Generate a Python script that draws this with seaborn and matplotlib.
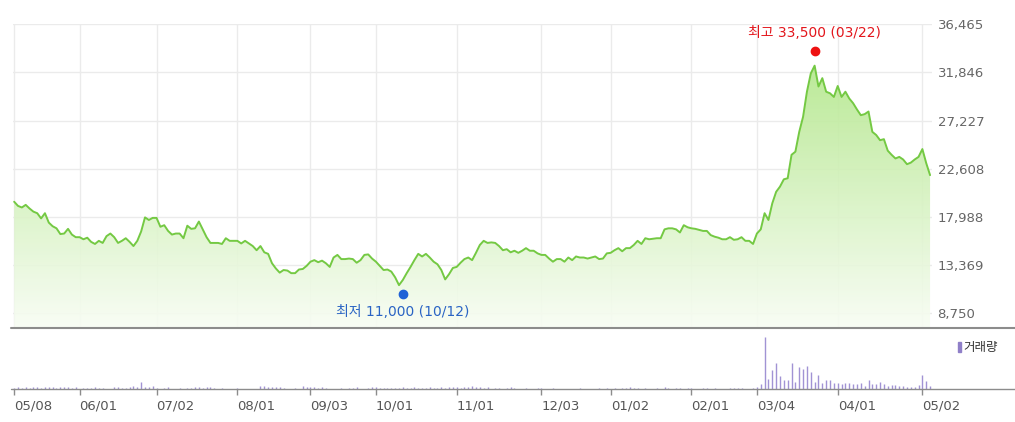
import numpy as np
import pandas as pd
import matplotlib
matplotlib.use("Agg")
import matplotlib.pyplot as plt
import matplotlib.transforms as mtransforms
import seaborn as sns
from matplotlib.colors import LinearSegmentedColormap
from matplotlib.patches import Rectangle

# daily closing prices (trading days, 05/08 -> early May)
prices = [
    19450, 19050, 18900, 19150, 18800, 18500, 18350, 17850, 18350, 17450,
    17100, 16900, 16350, 16400, 16850, 16300, 16050, 16050, 15850, 16000,
    15600, 15400, 15700, 15500, 16150, 16400, 16050, 15500, 15700, 15950,
    15600, 15200, 15700, 16600, 17950, 17700, 17900, 17900, 17050, 17200,
    16650, 16300, 16400, 16400, 15950, 17150, 16850, 16900, 17550, 16800,
    16050, 15500, 15500, 15500, 15400, 15950, 15700, 15700, 15700, 15450,
    15700, 15450, 15200, 14800, 15200, 14600, 14450, 13550, 13050, 12650,
    12900, 12850, 12600, 12600, 12950, 13000, 13300, 13700, 13850, 13650,
    13800, 13550, 13200, 14100, 14350, 13950, 13950, 14000, 13950, 13600,
    13850, 14350, 14400, 14000, 13700, 13300, 12900, 12950, 12750, 12200,
    11450, 11950, 12600, 13200, 13850, 14450, 14200, 14450, 14100, 13700,
    13450, 12900, 12000, 12500, 13100, 13200, 13600, 13950, 14100, 13850,
    14550, 15300, 15700, 15500, 15550, 15500, 15200, 14800, 14900, 14600,
    14750, 14550, 14750, 15000, 14750, 14750, 14500, 14350, 14350, 14000,
    13700, 13950, 13950, 13700, 14100, 13850, 14200, 14100, 14100, 14000,
    14100, 14200, 13950, 14000, 14500, 14550, 14800, 15000, 14700, 15000,
    15000, 15300, 15700, 15400, 15950, 15850, 15900, 15950, 15950, 16800,
    16900, 16900, 16800, 16500, 17200, 17000, 16900, 16850, 16750, 16650,
    16650, 16250, 16100, 16000, 15850, 15850, 16050, 15800, 15850, 16050,
    15700, 15700, 15400, 16400, 16800, 18350, 17700, 19300, 20400, 20900,
    21600, 21700, 23950, 24250, 26150, 27600, 30000, 31750, 32500, 30500,
    31300, 30000, 29850, 29500, 30550, 29500, 30000, 29350, 28900, 28300,
    27750, 27850, 28100, 26150, 25850, 25350, 25450, 24350, 23950, 23600,
    23750, 23500, 23050, 23200, 23500, 23750, 24500, 23150, 22000,
]

# daily volume (thousand shares)
volumes = [
    170, 200, 150, 200, 170, 230, 200, 170, 200, 230,
    200, 170, 230, 200, 250, 170, 200, 0, 170, 130,
    170, 200, 130, 170, 0, 0, 200, 230, 170, 130,
    200, 330, 230, 700, 200, 270, 300, 130, 0, 170,
    200, 0, 0, 170, 0, 130, 170, 230, 200, 170,
    270, 200, 170, 0, 130, 0, 0, 0, 130, 0,
    0, 0, 0, 0, 330, 300, 270, 270, 230, 200,
    170, 0, 0, 170, 0, 300, 200, 270, 230, 170,
    200, 130, 0, 0, 0, 170, 0, 170, 130, 200,
    0, 0, 170, 200, 270, 130, 170, 170, 130, 170,
    170, 200, 170, 170, 200, 170, 170, 170, 200, 170,
    170, 200, 170, 230, 200, 270, 170, 230, 270, 300,
    200, 230, 170, 200, 0, 170, 130, 0, 130, 200,
    130, 0, 0, 130, 0, 0, 170, 130, 0, 0,
    130, 0, 0, 0, 0, 0, 0, 130, 0, 0,
    0, 0, 130, 0, 130, 0, 170, 0, 130, 170,
    200, 130, 170, 0, 130, 0, 0, 130, 0, 200,
    130, 0, 130, 130, 0, 130, 130, 0, 0, 130,
    130, 0, 130, 0, 0, 0, 170, 170, 170, 100,
    0, 0, 170, 270, 500, 5270, 1070, 1930, 2670, 1330,
    930, 930, 2670, 730, 2230, 2070, 2400, 1800, 770, 1400,
    600, 930, 930, 600, 600, 500, 670, 600, 500, 500,
    670, 330, 930, 500, 500, 770, 500, 330, 400, 400,
    350, 330, 270, 230, 230, 400, 1400, 830, 330,
]

tick_days = [0, 17, 37, 58, 77, 94, 115, 137, 155, 176, 193, 214, 236]
tick_labels = ["05/08", "06/01", "07/02", "08/01", "09/03", "10/01", "11/01",
               "12/03", "01/02", "02/01", "03/04", "04/01", "05/02"]
price_ticks = [8750, 13369, 17988, 22608, 27227, 31846, 36465]

high_day, high_price, high_date = 208, 33500, "03/22"
low_day, low_price, low_date = 101, 11000, "10/12"

df = pd.DataFrame({"day": np.arange(len(prices)), "close": prices, "volume": volumes})

sns.set_style("white")
plt.rcParams["font.family"] = ["DejaVu Sans", "Noto Sans CJK KR"]

W, H = 1015, 422
fig = plt.figure(figsize=(W / 100, H / 100), dpi=100)
ax = fig.add_axes([13 / W, 1 - 327.7 / H, 919 / W, (327.7 - 24.3) / H])
ax2 = fig.add_axes([13 / W, 1 - 389.3 / H, 919 / W, (389.3 - 332) / H])

ymin, ymax = 7370, 36465
x0, x1 = -0.3, 238.5

# price area with vertical gradient
fill = ax.fill_between(df["day"], df["close"], ymin, color="none", lw=0)
cmap = LinearSegmentedColormap.from_list("g", ["#f8fdf4", "#a9e47c"])
grad = np.linspace(0, 1, 256).reshape(-1, 1)
im = ax.imshow(grad, extent=[x0, x1, ymin, ymax], origin="lower", aspect="auto",
               cmap=cmap, zorder=1, alpha=0.9)
im.set_clip_path(fill.get_paths()[0], transform=ax.transData)
sns.lineplot(data=df, x="day", y="close", ax=ax, color="#74c943", lw=1.4, zorder=3)

ax.set_xlim(x0, x1)
ax.set_ylim(ymin, ymax)
ax.set_xticks(tick_days)
ax.set_yticks(price_ticks)
ax.set_yticklabels([f"{v:,}" for v in price_ticks])
ax.set_axisbelow(True)
ax.grid(True, color="#ebebeb", lw=1)
ax.yaxis.tick_right()
ax.tick_params(axis="x", length=0, labelbottom=False)
ax.tick_params(axis="y", length=0, pad=4, labelsize=9.5, labelcolor="#666666")
ax.set_xlabel("")
ax.set_ylabel("")
for s in ax.spines.values():
    s.set_visible(False)
ax.axhline(ymin, xmin=-0.0022, xmax=1.0903, color="#8c8c8c", lw=1.5, clip_on=False)

# high / low markers
hi_tr = mtransforms.offset_copy(ax.transData, fig=fig, x=0, y=4.5, units="dots")
lo_tr = mtransforms.offset_copy(ax.transData, fig=fig, x=0, y=-4.2, units="dots")
ax.scatter([high_day], [high_price], s=36, color="#ee1111", zorder=4, transform=hi_tr)
ax.scatter([low_day], [low_price], s=36, color="#1f62d6", zorder=4, transform=lo_tr)
ax.annotate(f"최고 {high_price:,} ({high_date})", xy=(high_day, high_price),
            xytext=(0, 11), textcoords="offset points", ha="center", va="bottom",
            color="#e3161c", fontsize=10)
ax.annotate(f"최저 {low_price:,} ({low_date})", xy=(low_day, low_price),
            xytext=(0, -11), textcoords="offset points", ha="center", va="top",
            color="#2a64c4", fontsize=10)

# volume
ax2.vlines(df["day"], 0, df["volume"], color="#a193d4", lw=1.0)
ax2.set_xlim(x0, x1)
ax2.set_ylim(0, 5800)
ax2.set_yticks([])
ax2.set_xticks(tick_days)
ax2.set_xticklabels(tick_labels)
ax2.tick_params(axis="x", bottom=True, direction="out", length=4, width=1,
                color="#8c8c8c", pad=3, labelsize=9.5, labelcolor="#555555")
for lab in ax2.get_xticklabels():
    lab.set_ha("left")
for s in ax2.spines.values():
    s.set_visible(False)
ax2.axhline(0, xmin=-0.0022, xmax=1.0903, color="#8c8c8c", lw=1, clip_on=False)

fig.patches.append(Rectangle((958 / W, 1 - 352 / H), 3 / W, 10 / H,
                             transform=fig.transFigure, color="#8f7fc8"))
fig.text(963 / W, 1 - 347 / H, "거래량", va="center", ha="left", fontsize=9,
         color="#333333")

fig.savefig("out.png", dpi=100)
